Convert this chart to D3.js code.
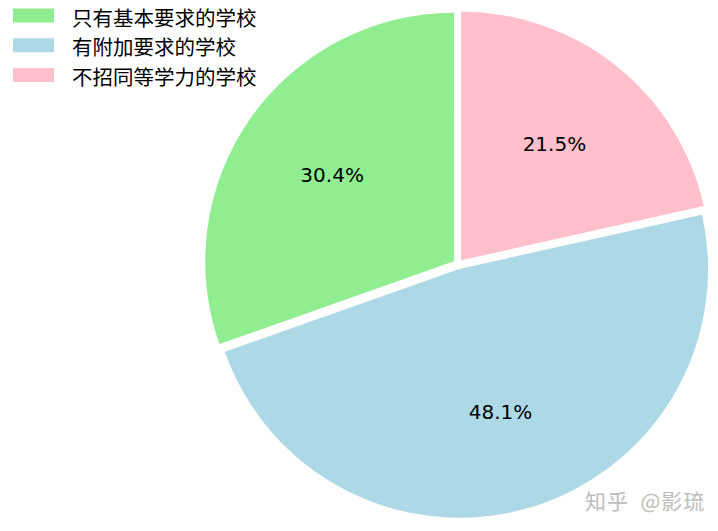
<!DOCTYPE html>
<html><head><meta charset="utf-8">
<script src="https://cdn.jsdelivr.net/npm/d3@7"></script>
<style>body{margin:0;background:#fff}svg{display:block}</style>
</head><body>
<svg id="c" width="718" height="531"></svg>
<script>
const categories = ["只有基本要求的学校", "有附加要求的学校", "不招同等学力的学校"];
const values = [30.4, 48.1, 21.5];
const colors = ["#90EE90", "#ADD8E6", "#FFC0CB"];
const explode = [0.02, 0.02, 0.02];
const watermark = "知乎 @影琉";

const svg = d3.select("#c");
const cx = 458, cy = 264.2, r = 248.7;

const pie = d3.pie().sort(null).value(d => d).startAngle(0).endAngle(-2 * Math.PI);
const arcs = pie(values);
const arc = d3.arc().innerRadius(0).outerRadius(r);
const fmt = d3.format(".1f");

const g = svg.append("g").attr("transform", `translate(${cx},${cy})`);
arcs.forEach((a, i) => {
  const mid = (a.startAngle + a.endAngle) / 2;
  const dx = Math.sin(mid) * explode[i] * r, dy = -Math.cos(mid) * explode[i] * r;
  const wg = g.append("g").attr("transform", `translate(${dx},${dy})`);
  wg.append("path").attr("d", arc(a)).attr("fill", colors[i]);
  const lr = 0.6 * r;
  wg.append("text")
    .attr("x", Math.sin(mid) * lr).attr("y", -Math.cos(mid) * lr)
    .attr("text-anchor", "middle").attr("dominant-baseline", "central")
    .attr("font-family", "DejaVu Sans").attr("font-size", 20).attr("fill", "#000")
    .text(fmt(values[i]) + "%");
});

const leg = svg.append("g");
const rowY = d3.scalePoint().domain(categories).range([15.5, 75]);
categories.forEach((c, i) => {
  const y = rowY(c);
  leg.append("rect").attr("x", 13).attr("y", y - 7).attr("width", 41).attr("height", 14).attr("fill", colors[i]);
  leg.append("text").attr("x", 72).attr("y", y + 1).attr("dominant-baseline", "central")
    .attr("font-family", "Noto Sans CJK SC").attr("font-size", 20.5).attr("fill", "#000").text(c);
});

svg.append("text").attr("x", 585).attr("y", 500).attr("dominant-baseline", "central")
  .attr("font-family", "Noto Sans CJK SC").attr("font-size", 21).attr("fill", "#bdbdbd")
  .attr("letter-spacing", 1).attr("xml:space", "preserve").text(watermark.replace(" ", "  "));
</script>
</body></html>
